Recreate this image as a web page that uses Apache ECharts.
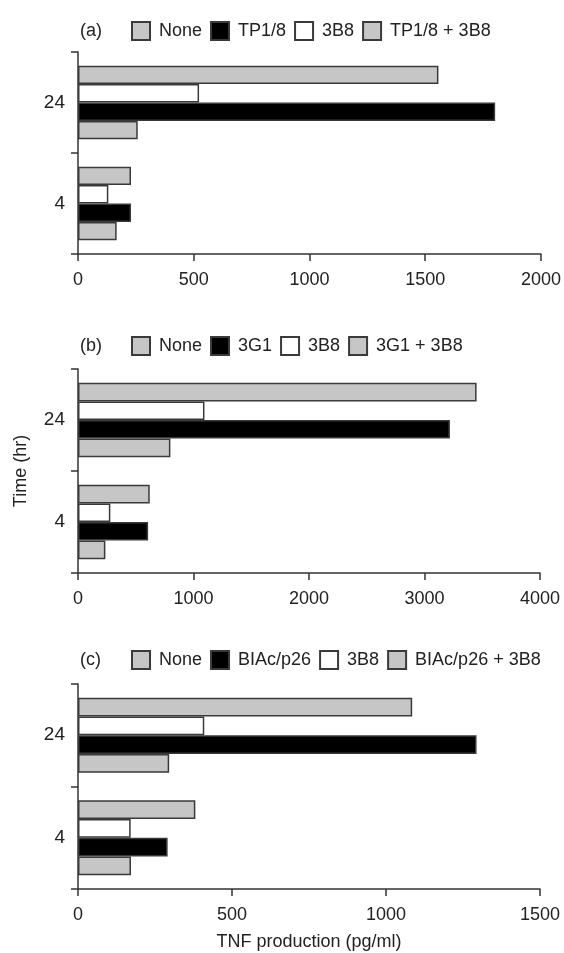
<!DOCTYPE html>
<html>
<head>
<meta charset="utf-8">
<script src="https://cdn.jsdelivr.net/npm/echarts@6/dist/echarts.min.js"></script>
<style>
html,body{margin:0;padding:0;background:#fff;}
#chart{width:564px;height:953px;}
</style>
</head>
<body>
<div id="chart"></div>
<script>
// Categories (bottom to top on the axis)
const times = ['4', '24'];

// Panel (a)
const aNames = ['None', 'TP1/8', '3B8', 'TP1/8 + 3B8'];
const aNone = [229, 1557];
const aAgent = [229, 1802];
const a3B8 = [131, 523];
const aCombo = [167, 258];
const aTicks = {min: 0, max: 2000, interval: 500};

// Panel (b)
const bNames = ['None', '3G1', '3B8', '3G1 + 3B8'];
const bNone = [621, 3451];
const bAgent = [607, 3220];
const b3B8 = [280, 1095];
const bCombo = [237, 800];
const bTicks = {min: 0, max: 4000, interval: 1000};

// Panel (c)
const cNames = ['None', 'BIAc/p26', '3B8', 'BIAc/p26 + 3B8'];
const cNone = [381, 1085];
const cAgent = [291, 1294];
const c3B8 = [171, 410];
const cCombo = [172, 296];
const cTicks = {min: 0, max: 1500, interval: 500};

const panelLabels = ['(a)', '(b)', '(c)'];

const FONT = "'Liberation Sans', Arial, Helvetica, sans-serif";
const GRAY = '#c6c6c6';
const EDGE = '#3a3a3a';
const AXIS = '#333';
const TEXT = '#222';

const grids = [
  {left: 78, right: 23, top: 52, height: 202},
  {left: 78, right: 24, top: 369, height: 204},
  {left: 78, right: 24, top: 684, height: 205}
];
const legendTops = [16, 331, 645];

const panels = [
  {names: aNames, vals: [aNone, aAgent, a3B8, aCombo], ticks: aTicks},
  {names: bNames, vals: [bNone, bAgent, b3B8, bCombo], ticks: bTicks},
  {names: cNames, vals: [cNone, cAgent, c3B8, cCombo], ticks: cTicks}
];

const fills = [GRAY, '#000', '#fff', GRAY];
// drawing order within a band (top to bottom): None, 3B8, agent, combo
const drawOrder = [0, 2, 1, 3];

const xAxes = [], yAxes = [], series = [], legends = [], titles = [];
panels.forEach((p, i) => {
  xAxes.push({
    type: 'value', gridIndex: i,
    min: p.ticks.min, max: p.ticks.max, interval: p.ticks.interval,
    splitLine: {show: false},
    axisLine: {show: true, lineStyle: {color: AXIS, width: 1.5}},
    axisTick: {show: true, length: 7, lineStyle: {color: AXIS, width: 1.5}},
    axisLabel: {color: TEXT, fontSize: 18, fontFamily: FONT, margin: 17,
      formatter: v => String(v)},
    name: i === 2 ? 'TNF production (pg/ml)' : '',
    nameLocation: 'middle', nameGap: 44,
    nameTextStyle: {color: TEXT, fontSize: 18, fontFamily: FONT}
  });
  yAxes.push({
    type: 'category', gridIndex: i, data: times,
    axisLine: {show: true, lineStyle: {color: AXIS, width: 1.5}},
    axisTick: {show: true, length: 7, lineStyle: {color: AXIS, width: 1.5}},
    axisLabel: {color: TEXT, fontSize: 19, fontFamily: FONT, margin: 13},
    name: i === 1 ? 'Time (hr)' : '',
    nameLocation: 'middle', nameGap: 48, nameRotate: 90,
    nameTextStyle: {color: TEXT, fontSize: 18, fontFamily: FONT}
  });
  drawOrder.forEach(k => {
    series.push({
      type: 'bar', name: p.names[k], xAxisIndex: i, yAxisIndex: i,
      data: p.vals[k],
      barGap: '0%', barCategoryGap: '27%',
      itemStyle: {color: fills[k], borderColor: EDGE, borderWidth: 1.5},
      emphasis: {disabled: true}, animation: false
    });
  });
  legends.push({
    data: p.names.slice(),
    left: 126, top: legendTops[i],
    orient: 'horizontal',
    itemWidth: 18, itemHeight: 18, itemGap: 8,
    icon: 'rect',
    selectedMode: false,
    textStyle: {color: TEXT, fontSize: 18, fontFamily: FONT, padding: [0, 0, 0, 4]}
  });
  titles.push({
    text: panelLabels[i], left: 75, top: legendTops[i] + 1,
    textStyle: {color: TEXT, fontSize: 18, fontWeight: 'normal', fontFamily: FONT}
  });
});

const chart = echarts.init(document.getElementById('chart'), null, {renderer: 'canvas'});
chart.setOption({
  animation: false,
  backgroundColor: '#fff',
  title: titles,
  legend: legends,
  grid: grids,
  xAxis: xAxes,
  yAxis: yAxes,
  series: series
});
</script>
</body>
</html>
